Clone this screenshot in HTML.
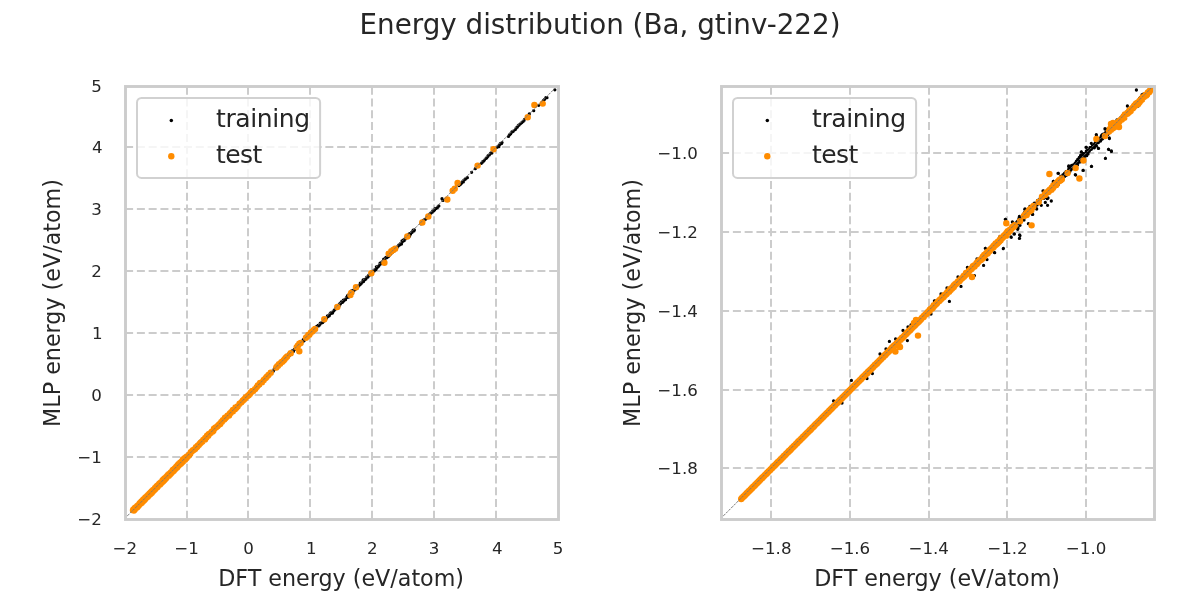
<!DOCTYPE html>
<html lang="en"><head><meta charset="utf-8"><title>Energy distribution (Ba, gtinv-222)</title>
<style>html,body{margin:0;padding:0;background:#fff;overflow:hidden}svg{display:block}text{font-family:"DejaVu Sans", "Liberation Sans", sans-serif;fill:#262626}</style></head><body>
<svg width="1200" height="600" viewBox="0 0 1200 600">
<rect width="1200" height="600" fill="#fff"/>
<text x="600" y="34" font-size="27.78" text-anchor="middle">Energy distribution (Ba, gtinv-222)</text>
<clipPath id="c0"><rect x="124.75" y="85.5" width="433.0" height="433.0"/></clipPath>
<path d="M187 518.85V85.5M248 518.85V85.5M310 518.85V85.5M372 518.85V85.5M434 518.85V85.5M496 518.85V85.5M125.1 147H557.75M125.1 209H557.75M125.1 271H557.75M125.1 333H557.75M125.1 395H557.75M125.1 457H557.75" stroke="#cccccc" stroke-width="2" stroke-dasharray="8 3.78" fill="none"/>
<g clip-path="url(#c0)">
<path d="M132.5 510.96h0M133.19 510.69h0M133.53 509.55h0M133.87 509.61h0M134.47 509.7h0M134.82 508.92h0M135.17 507.51h0M135.54 508.53h0M135.98 506.69h0M136.62 506.02h0M137.16 506.61h0M137.98 505.6h0M138.45 505.32h0M138.94 504.88h0M139.73 504.18h0M140.41 503.85h0M140.93 502.48h0M141.27 502.27h0M141.69 501.66h0M142.18 500.89h0M142.83 500.32h0M143.61 500.13h0M144.33 499.3h0M144.94 499.38h0M145.77 497.77h0M146.66 496.49h0M147.03 495.77h0M147.42 496.64h0M148.01 496.38h0M148.77 495.03h0M149.41 494.52h0M150.13 493.13h0M150.79 492.28h0M151.59 491.72h0M152.46 490.34h0M152.79 490.94h0M153.52 489.04h0M154.31 487.91h0M154.78 488.2h0M155.09 489.04h0M155.67 488.06h0M156.01 487.83h0M156.77 487.12h0M157.3 486.6h0M158.12 486h0M158.75 485.14h0M159.58 484.48h0M160.05 482.55h0M160.6 482.28h0M161.47 483.01h0M161.87 481.91h0M162.31 481.65h0M162.9 480.34h0M163.2 480.17h0M163.75 479.37h0M164.62 479.5h0M165.34 477.5h0M166.04 477.48h0M166.37 478h0M167.2 475.84h0M167.98 475.19h0M168.34 475.61h0M169.02 474.77h0M169.45 474.23h0M169.84 473.66h0M170.14 473.61h0M170.53 473.49h0M170.85 473.06h0M171.67 471.69h0M172.13 471.27h0M172.63 470.78h0M173.44 470.37h0M174.34 468.64h0M174.69 469.04h0M175.05 468.31h0M175.85 468.11h0M176.25 468.69h0M176.86 466.93h0M177.25 466.23h0M177.87 465.7h0M178.75 465.4h0M179.21 463.75h0M179.73 464.34h0M180.35 464.07h0M181.12 462.29h0M181.91 462.04h0M182.8 461.4h0M183.59 459.22h0M184.33 459.37h0M184.84 459.41h0M185.16 458.88h0M185.62 458.06h0M186.33 457.84h0M187.2 456.24h0M188.09 456.02h0M188.52 454.93h0M188.96 454.77h0M189.63 454.32h0M190.47 453.47h0M191.16 451.91h0M191.94 452.35h0M192.79 451.22h0M193.56 450.04h0M193.96 449.01h0M194.74 448.37h0M195.62 448.84h0M196.16 446.36h0M196.89 447.48h0M197.3 446.52h0M198.14 445.69h0M198.92 445.3h0M199.81 444.61h0M200.51 442.69h0M200.88 443.28h0M201.19 443.19h0M201.81 441.65h0M202.67 439.91h0M203.46 440.59h0M203.89 439.7h0M204.34 439.72h0M204.99 438.58h0M205.37 438.81h0M206.21 437.02h0M206.86 437.22h0M207.7 434.82h0M208.31 435.88h0M208.92 434.57h0M209.49 434.1h0M209.9 434.69h0M210.3 433.32h0M210.89 432.61h0M211.38 431.53h0M211.99 430.7h0M212.36 430.92h0M212.99 430.61h0M213.76 430.29h0M214.36 428.38h0M215.21 428.04h0M215.77 427.33h0M216.38 426.8h0M217.1 425.85h0M217.68 426.12h0M218.55 424.7h0M219.41 423.12h0M219.87 422.5h0M220.67 422.45h0M221.06 422.97h0M221.4 422.61h0M221.84 422.49h0M222.61 421.35h0M223.45 420.64h0M224.15 420.17h0M224.53 420.13h0M224.97 417.67h0M225.84 417.25h0M226.73 417.25h0M227.53 416.38h0M228.14 415.96h0M228.64 415.12h0M229.38 414.68h0M229.69 413.35h0M230 413.4h0M230.5 412.63h0M230.84 412.3h0M231.73 412.22h0M232.09 410.08h0M232.55 411.98h0M233.01 410.82h0M233.39 409.14h0M234.18 409.99h0M234.64 409.69h0M235.28 409.32h0M236 407.76h0M236.71 406.99h0M237.27 407.5h0M237.95 406.22h0M238.73 405.81h0M239.07 405.08h0M239.89 403.23h0M240.52 403.22h0M241.37 402.19h0M241.99 401.9h0M242.43 401.42h0M242.76 401.04h0M243.18 400.24h0M243.94 400.09h0M244.41 398.84h0M244.92 398.68h0M245.23 398.37h0M245.97 397.72h0M246.6 397.23h0M247.46 396.71h0M247.83 396.02h0M248.43 394.64h0M249.23 393.86h0M249.94 394.07h0M250.83 392.2h0M251.55 392.92h0M252.23 390.95h0M252.57 391.32h0M252.94 391.47h0M253.4 390.59h0M253.8 390.71h0M254.62 389.52h0M255.32 388.2h0M255.8 388.2h0M256.37 387.56h0M256.83 387.27h0M257.71 386.57h0M258.15 385.33h0M259.03 384.38h0M259.33 384.75h0M259.86 383.1h0M260.28 383.42h0M260.89 383.14h0M261.24 382.37h0M261.78 381.93h0M262.26 381.37h0M262.7 380.32h0M263.45 379.8h0M264.15 379.21h0M264.68 377.81h0M265.18 378.74h0M265.91 377.66h0M266.6 378.01h0M267.43 376.45h0M268.11 375.39h0M268.49 374.11h0M269.11 373.45h0M269.89 373.68h0M270.68 371.91h0M271.39 371.62h0M272.11 371.51h0M272.49 371.25h0M273.01 371.42h0M273.64 370.6h0M274.32 368.7h0M274.91 368.1h0M275.21 368.66h0M275.82 366.91h0M276.44 367.05h0M277.18 366.25h0M277.63 366.36h0M278.37 365.43h0M278.79 364.71h0M279.39 362.72h0M279.92 362.86h0M280.68 363.03h0M281.35 362.11h0M281.74 361.69h0M282.19 361.39h0M282.83 360.3h0M283.14 360.87h0M283.84 359.92h0M284.55 358.84h0M285.16 358.03h0M285.74 357.59h0M286.58 357.08h0M287 357.88h0M287.31 356.11h0M287.89 356.33h0M288.45 353.84h0M288.92 355.02h0M289.34 355.54h0M289.99 354.03h0M290.86 353.27h0M291.24 352.66h0M292.07 350.97h0M292.8 350.99h0M293.39 351.44h0M293.7 350.6h0M294.27 349.42h0M294.76 349.25h0M295.24 348.84h0M296.05 348.57h0M296.85 346.88h0M297.22 347.28h0M298.07 345.29h0M298.54 344.83h0M299.44 344.72h0M300.09 343.31h0M300.56 343.67h0M300.89 343.74h0M301.36 343.06h0M302.22 341.6h0M302.83 341.43h0M303.24 339.63h0M304.07 340.76h0M304.86 338.18h0M305.72 337.26h0M306.35 337.5h0M307.09 336.64h0M307.66 336.26h0M308.13 334.99h0M308.46 335.72h0M309.05 334.76h0M309.55 334.12h0M310.44 334.38h0M310.89 332.81h0M311.53 332.06h0M312.06 332.08h0M312.49 331.79h0M313.33 330.29h0M314.18 329.85h0M315.07 328.68h0M315.49 328.65h0M315.84 328.08h0M316.29 327.97h0M316.74 326.28h0M317.49 326.1h0M318.04 325.48h0M318.57 325.88h0M319.07 325.45h0M319.95 324.34h0M320.33 323.03h0M321.14 322.99h0M321.57 322.53h0M322.11 322.46h0M322.68 322.52h0M323.5 320.38h0M323.82 321.22h0M324.65 319.73h0M325.24 318.97h0M325.77 318.45h0M326.63 318.11h0M327.51 315.78h0M327.96 316.55h0M328.57 315.9h0M329.28 315.82h0M329.97 314.01h0M330.73 312.9h0M331.06 313.43h0M331.82 312.61h0M332.51 313.02h0M332.99 311.6h0M333.68 310.93h0M334.4 310.06h0M335.01 309.43h0M335.66 308.34h0M336.32 308.23h0M336.63 307.48h0M337.5 307.38h0M338.19 306.58h0M338.63 305.25h0M339.08 306.06h0M339.56 304.53h0M339.88 303.6h0M340.43 303.88h0M340.88 302.8h0M341.32 301.9h0M341.64 302.36h0M342.35 302.44h0M342.77 301.8h0M343.37 300.07h0M343.79 300.97h0M344.58 299.63h0M345.02 299.44h0M345.5 299.71h0M346.37 297.57h0M346.81 297.5h0M347.36 296.26h0M347.74 295.4h0M348.28 296.36h0M348.66 297.08h0M349 295.82h0M349.83 294.67h0M350.66 293.43h0M351.52 290.88h0M352.02 292.79h0M352.77 292.72h0M353.09 290.94h0M353.61 290.23h0M354.11 290.21h0M354.58 289.76h0M355.09 289.48h0M355.97 288.25h0M356.39 287.27h0M357.19 287.91h0M357.75 287.15h0M358.27 286.22h0M359.12 285.36h0M359.96 284.83h0M360.28 283.17h0M361.04 283.8h0M361.36 283.13h0M362.21 282.13h0M362.67 281.61h0M363.17 279.95h0M363.63 281.4h0M364.09 280.01h0M364.82 279.3h0M365.12 279.58h0M365.88 279.1h0M366.74 277.17h0M367.06 277.3h0M367.93 276.99h0M368.8 275.18h0M369.36 275.21h0M369.96 274.66h0M370.74 273.41h0M371.48 273.23h0M372.15 271.3h0M372.64 271.43h0M373.41 271.36h0M373.76 270.84h0M374.21 270.96h0M374.55 270.43h0M375.04 269.4h0M375.93 269.58h0M376.39 266.82h0M376.74 268.09h0M377.47 267.2h0M378.04 266.32h0M378.71 266.16h0M379.41 264.87h0M380.11 263.12h0M380.48 264.06h0M381.12 262.79h0M381.65 262.63h0M382.1 261.84h0M382.54 262.41h0M383.19 262.05h0M383.69 259.25h0M384.29 261.05h0M384.73 259.86h0M385.62 257.93h0M385.99 257.31h0M386.79 257.67h0M387.64 257.11h0M388.01 256.41h0M388.42 256.59h0M389.28 254.9h0M389.8 254.9h0M390.26 253.59h0M391.03 253.52h0M391.69 252.53h0M392.36 252.05h0M392.74 252.07h0M393.16 251.11h0M393.86 251.19h0M394.28 250.51h0M394.98 249.35h0M395.4 248.76h0M396.17 248.47h0M396.8 247.73h0M397.34 247.06h0M397.97 246.18h0M398.37 245.75h0M399.08 244.84h0M399.57 244.97h0M400.44 243.59h0M400.95 244h0M401.5 244.02h0M402.02 240.88h0M402.44 241.81h0M402.74 241.19h0M403.59 239.81h0M404.13 240.64h0M404.96 239.02h0M405.27 239.11h0M405.9 237.64h0M406.25 237.11h0M406.93 236.93h0M407.31 237.46h0M407.78 235.27h0M408.15 235.99h0M408.74 236.04h0M409.16 233.79h0M409.54 236.17h0M410.13 233.65h0M410.46 234.33h0M411.3 232.75h0M411.97 232.47h0M412.75 231.26h0M413.18 230.24h0M413.98 230.93h0M414.39 230.02h0M420.99 223.75h0M421.64 222.72h0M423.07 221.92h0M423.27 220.46h0M424.11 219.98h0M425.57 219.18h0M426.19 218.52h0M427.1 217.11h0M427.91 216.83h0M428.63 215.48h0M429.49 214.5h0M430.02 213.99h0M431.02 213.01h0M432.27 212.16h0M432.67 211.24h0M433.74 210.77h0M434.55 209.93h0M435.14 208.76h0M435.95 208.57h0M437.25 207.67h0M438.2 206.47h0M438.84 205.95h0M458.99 185.52h0M460.27 184.6h0M461.15 183.8h0M461.79 182.66h0M462.83 181.28h0M463.3 181.91h0M463.9 180.21h0M465.22 179.27h0M465.73 178.56h0M466.88 177.93h0M467.36 177.7h0M481.38 163.27h0M482.39 162.33h0M482.72 161.59h0M483.73 161.09h0M484.42 160.03h0M486.09 158.47h0M486.8 157.74h0M487.81 156.39h0M488.18 155.61h0M489.31 154.93h0M490.66 153.2h0M491.59 152.58h0M491.86 153.05h0M497 147.32h0M498.17 146.06h0M498.86 146.71h0M499.55 144.84h0M500.26 143.65h0M501.56 143.5h0M502.04 142.53h0M508.49 136.39h0M509.37 134.93h0M509.96 134.5h0M510.69 133.66h0M511.9 132.01h0M512.98 131.57h0M513.24 131.19h0M515.32 129.61h0M516.21 128.02h0M517.41 127.09h0M518.21 125.68h0M519.1 124.98h0M520.36 123.78h0M521.52 122.86h0M521.86 122.59h0M523.09 121.4h0M524.19 120.24h0M524.61 119.35h0M543.31 100.72h0M544.62 99.33h0M545.88 97.59h0M546.96 97.72h0M443 200.4h0M442 198.7h0M471.6 172.3h0M475.3 168.7h0M529.3 114h0M533.7 110.7h0M538.7 105.3h0M554.85 89.85h0M190.6 455.4h0M200.2 441.2h0M238.7 406.7h0M260 385.6h0M256 388.9h0" stroke="#000" stroke-width="3.3" stroke-linecap="round" fill="none"/>
<path d="M133 510.35h0M133.24 509.78h0M133.42 510.18h0M133.55 509.49h0M133.77 509.2h0M133.95 510.51h0M134.07 509.2h0M134.26 509.5h0M134.46 509.79h0M134.59 508.86h0M134.73 508.3h0M134.96 509.24h0M135.17 507.79h0M135.4 508.74h0M135.57 508.57h0M135.74 507.58h0M135.85 507.47h0M135.96 507.53h0M136.17 507.89h0M136.4 507.69h0M136.54 507.3h0M136.7 507.51h0M136.88 506.49h0M137.08 507.42h0M137.21 507.15h0M137.31 506.06h0M137.45 506.69h0M137.69 506.46h0M137.84 506.52h0M137.99 505.35h0M138.22 505.74h0M138.43 505.59h0M138.67 505.03h0M138.9 505.17h0M139.13 504.52h0M139.34 504.53h0M139.48 503.81h0M139.68 503.4h0M139.91 503.27h0M140.02 503.1h0M140.26 503.25h0M140.38 502.62h0M140.48 503.57h0M140.68 503.39h0M140.89 502.17h0M141.08 502.45h0M141.3 502.96h0M141.53 501.52h0M141.76 502.65h0M142.01 501.12h0M142.14 500.99h0M142.24 502.06h0M142.46 501.5h0M142.69 501.27h0M142.83 500.28h0M142.95 501.22h0M143.08 500.38h0M143.24 499.74h0M143.38 500.02h0M143.59 499.95h0M143.73 500.76h0M143.91 500.4h0M144.1 498.9h0M144.26 499.38h0M144.48 499.02h0M144.69 499.12h0M144.82 499.51h0M144.93 499.33h0M145.06 497.89h0M145.19 498.98h0M145.43 497.52h0M145.61 498.13h0M145.83 497.42h0M146 497.5h0M146.23 497.14h0M146.47 496.94h0M146.6 497.47h0M146.78 496.35h0M146.97 496.11h0M147.19 496.88h0M147.41 496.55h0M147.56 496.03h0M147.72 496.66h0M147.83 496.54h0M147.94 495.34h0M148.08 496.32h0M148.25 495.31h0M148.48 494.84h0M148.65 495.15h0M148.87 495.29h0M149.06 494.45h0M149.21 493.99h0M149.44 494.57h0M149.65 493.57h0M149.82 494.37h0M150 493.15h0M150.17 494.19h0M150.31 492.95h0M150.45 493.62h0M150.68 492.52h0M150.8 492.54h0M150.95 492.83h0M151.08 492.4h0M151.2 493.31h0M151.41 491.7h0M151.66 491.46h0M151.82 492.71h0M152.03 492.09h0M152.2 491.06h0M152.4 490.73h0M152.53 491.05h0M152.63 490.96h0M152.85 491.21h0M153.02 490.94h0M153.19 489.98h0M153.38 490.21h0M153.6 490.81h0M153.76 490.11h0M153.97 489.65h0M154.11 490h0M154.34 489.85h0M154.54 489.77h0M154.75 489.23h0M154.91 488.54h0M155.11 488h0M155.27 488.93h0M155.48 488.48h0M155.62 488.01h0M155.78 488.16h0M155.95 488.08h0M156.19 487.06h0M156.38 487.81h0M156.54 487.19h0M156.79 486.22h0M156.97 486.24h0M157.19 487.27h0M157.36 485.75h0M157.55 486.26h0M157.76 486.01h0M157.95 486.32h0M158.13 485.47h0M158.37 484.91h0M158.58 485h0M158.79 484.35h0M159.04 484.48h0M159.15 484.24h0M159.31 483.66h0M159.47 484.15h0M159.68 483.84h0M159.82 483.49h0M160.03 484.43h0M160.21 483.09h0M160.43 483.15h0M160.56 482.6h0M160.77 483.47h0M160.97 482.73h0M161.15 482.16h0M161.4 482.12h0M161.59 482.67h0M161.82 481.88h0M161.96 481.87h0M162.08 482.2h0M162.23 482.08h0M162.37 481.18h0M162.51 481.12h0M162.64 480.32h0M162.85 480.55h0M162.98 480.45h0M163.16 480.48h0M163.35 480.65h0M163.51 480.93h0M163.73 479.31h0M163.96 480.44h0M164.18 479h0M164.4 479.56h0M164.5 478.47h0M164.74 479.25h0M164.88 478.23h0M165 478.32h0M165.22 478.28h0M165.34 479.05h0M165.56 477.66h0M165.8 478.13h0M166.01 478.01h0M166.25 477.96h0M166.47 476.79h0M166.68 477.12h0M166.89 476.76h0M167.12 476.72h0M167.26 476.06h0M167.38 476.36h0M167.49 476.21h0M167.61 476.12h0M167.79 476.03h0M168.02 474.95h0M168.24 475.46h0M168.43 475.59h0M168.65 474.9h0M168.81 475.67h0M168.93 475.04h0M169.12 473.87h0M169.31 474.73h0M169.55 473.93h0M169.8 473.97h0M169.97 474.41h0M170.08 474.02h0M170.27 473.22h0M170.5 473.03h0M170.67 473.12h0M170.89 472.4h0M171.05 472.57h0M171.24 473.04h0M171.38 472.89h0M171.54 472.22h0M171.68 472.08h0M171.93 472.07h0M172.15 471.33h0M172.29 471.13h0M172.48 471.48h0M172.7 470.31h0M172.91 471.46h0M173.09 469.94h0M173.23 469.73h0M173.36 471.06h0M173.55 470.45h0M173.77 470.63h0M173.96 469.97h0M174.16 469.91h0M174.35 469.69h0M174.48 469.54h0M174.65 469.52h0M174.76 468.48h0M174.87 469.32h0M175.11 468.89h0M175.26 469h0M175.48 468.37h0M175.62 467.81h0M175.78 467.68h0M175.95 468.03h0M176.19 466.85h0M176.37 466.64h0M176.49 467.76h0M176.68 467.74h0M176.84 466.13h0M177 466.9h0M177.24 467.28h0M177.41 466.2h0M177.53 466.45h0M177.66 465.53h0M177.76 465.2h0M177.96 465.18h0M178.21 464.88h0M178.44 464.72h0M178.54 465.56h0M178.68 465.44h0M178.81 464.22h0M179.02 465.07h0M179.25 464.87h0M179.36 464.59h0M179.57 464.12h0M179.81 463.55h0M180.06 464.04h0M180.16 462.82h0M180.35 463.9h0M180.47 462.98h0M180.68 462.54h0M180.91 462.82h0M181.01 462.52h0M181.2 462.45h0M181.4 461.78h0M181.62 461.91h0M181.82 462.14h0M181.98 461.59h0M182.2 462.26h0M182.42 461.44h0M182.56 460.49h0M182.81 461.27h0M183.03 460.45h0M183.22 461.29h0M183.45 460.47h0M183.59 460.04h0M183.83 459.73h0M184.03 459.88h0M184.26 459.98h0M184.41 458.55h0M184.54 459.08h0M184.73 459.52h0M184.97 458.05h0M185.19 459.06h0M185.42 458.44h0M185.56 458.75h0M185.78 458.26h0M186.02 457.48h0M186.13 457.7h0M186.35 456.92h0M186.57 457.88h0M186.7 457.22h0M186.9 456.79h0M187.03 456.55h0M188.17 455.97h0M189.03 455.06h0M190.15 453.75h0M190.84 452.16h0M192.05 451.23h0M192.96 450.21h0M193.61 450.05h0M194.27 449.54h0M195.06 448.99h0M196.01 447.27h0M196.63 447.19h0M197.17 446.74h0M197.75 445.84h0M198.76 444.89h0M199.73 443.68h0M200.51 443.03h0M201.04 442.56h0M202.33 441.52h0M203.28 440.04h0M203.99 439.67h0M205.25 438.02h0M206.36 437.58h0M207.07 435.79h0M207.6 436.06h0M208.16 435.63h0M208.7 434.29h0M209.57 433.8h0M210.83 432.87h0M211.81 431.73h0M212.63 431.57h0M213.33 430.82h0M214.28 428.81h0M215.32 427.66h0M216.13 427.29h0M217.41 426.25h0M218.7 424.92h0M219.4 424.28h0M220.19 423.98h0M221.35 421.85h0M221.89 421.82h0M222.91 420.2h0M224.2 419.57h0M225.3 418.36h0M226.55 416.93h0M227.53 415.83h0M228.63 415.19h0M229.34 414.44h0M229.94 413.47h0M230.63 412.99h0M231.24 412.33h0M232.32 411.24h0M232.97 411.34h0M233.65 410.11h0M234.9 409.15h0M235.51 407.59h0M236.37 407.84h0M237.54 406.48h0M183 459.35h0M185 459.75h0M181 463.55h0M178.5 464.15h0M225 417.65h0M229 415.45h0M233 409.85h0M205 439.45h0M214 428.75h0M239.6 403.74h0M241.32 402.36h0M242.7 400.78h0M243.82 399.66h0M244.78 398.73h0M245.82 397.41h0M247.59 395.97h0M248.65 395.26h0M249.82 393.92h0M250.89 392.48h0M252.28 391.05h0M253.29 390.9h0M255.17 389.02h0M256.74 387.08h0M257.85 385.5h0M259.01 384.62h0M260.11 382.88h0M262.01 382.28h0M263.83 379.97h0M265.63 378.11h0M266.59 376.97h0M268.47 374.89h0M276.3 367.46h0M277.21 366.14h0M278.01 365.85h0M278.96 364.32h0M280.11 363.75h0M281.37 362.15h0M282.28 361.63h0M283.65 360.55h0M284.6 359.18h0M285.89 357.83h0M287.09 356.53h0M296.7 347.15h0M298 345.51h0M299.3 343.82h0M300.6 342.88h0M306 337.72h0M306.95 336.86h0M308.35 335.09h0M309.29 334.69h0M310.78 332.74h0M312.28 331.5h0M313.82 330.03h0M315.06 329.01h0M270.7 372.7h0M290.7 353.3h0M299.3 351.3h0M324.3 319.3h0M337.3 306.9h0M350.4 295h0M351.2 293h0M356 287.3h0M371.33 273.33h0M384.4 262.7h0M388.7 253.7h0M391.3 251.3h0M393.2 250h0M395.1 248.7h0M407.3 236.4h0M422.3 222.4h0M428.3 216.4h0M447.3 199.5h0M452.7 190.7h0M454.7 188.7h0M457.6 182.9h0M477.6 165.6h0M493.5 149.3h0M527.7 117.3h0M534.4 104.9h0M542.7 103.6h0" stroke="#ff8c00" stroke-width="6.45" stroke-linecap="round" fill="none"/>
<path d="M124.75 518.5L557.75 85.5" stroke="#777" stroke-width="1" stroke-dasharray="2.6 1.1" fill="none"/>
</g>
<rect x="125.5" y="86.5" width="433.0" height="433.0" fill="none" stroke="#cccccc" stroke-width="2.9"/>
<rect x="137" y="98" width="183.1" height="79.9" rx="4.5" ry="4.5" fill="#fff" fill-opacity="0.8" stroke="#ccc" stroke-opacity="0.9" stroke-width="2"/>
<circle cx="171.3" cy="120.5" r="1.75" fill="#000"/>
<circle cx="171.3" cy="156.3" r="3.2" fill="#ff8c00"/>
<text x="216.1" y="126.9" font-size="25" letter-spacing="-0.4">training</text>
<text x="216.1" y="163.1" font-size="25" letter-spacing="-0.58">test</text>
<text x="124.75" y="554" font-size="16.67" text-anchor="middle">−2</text>
<text x="186.61" y="554" font-size="16.67" text-anchor="middle">−1</text>
<text x="248.46" y="554" font-size="16.67" text-anchor="middle">0</text>
<text x="311.22" y="554" font-size="16.67" text-anchor="middle">1</text>
<text x="372.18" y="554" font-size="16.67" text-anchor="middle">2</text>
<text x="434.04" y="554" font-size="16.67" text-anchor="middle">3</text>
<text x="497.29" y="554" font-size="16.67" text-anchor="middle">4</text>
<text x="558.15" y="554" font-size="16.67" text-anchor="middle">5</text>
<text x="101.8" y="92.1" font-size="16.67" text-anchor="end">5</text>
<text x="102.6" y="153.06" font-size="16.67" text-anchor="end">4</text>
<text x="101.8" y="214.91" font-size="16.67" text-anchor="end">3</text>
<text x="101.8" y="276.87" font-size="16.67" text-anchor="end">2</text>
<text x="102.7" y="338.73" font-size="16.67" text-anchor="end">1</text>
<text x="101.8" y="401.39" font-size="16.67" text-anchor="end">0</text>
<text x="101.8" y="463.24" font-size="16.67" text-anchor="end">−1</text>
<text x="101.8" y="525.1" font-size="16.67" text-anchor="end">−2</text>
<text x="341.1" y="585.6" font-size="22.22" text-anchor="middle">DFT energy (eV/atom)</text>
<text transform="translate(59.8 303) rotate(-90)" font-size="22.22" text-anchor="middle">MLP energy (eV/atom)</text>
<clipPath id="c1"><rect x="720.75" y="85.5" width="433.0" height="433.0"/></clipPath>
<path d="M771 518.85V85.5M850 518.85V85.5M929 518.85V85.5M1007 518.85V85.5M1086 518.85V85.5M721.1 153H1153.75M721.1 232H1153.75M721.1 311H1153.75M721.1 390H1153.75M721.1 468H1153.75" stroke="#cccccc" stroke-width="2" stroke-dasharray="8 3.78" fill="none"/>
<g clip-path="url(#c1)">
<path d="M851.4 380.4h0M833.6 401h0M842 403h0M872.4 373.6h0M867 378.5h0M880 354h0M886 349h0M889.4 341.4h0M895.6 339h0M903 330.4h0M907.4 340.6h0M908 327h0M911 325h0M931 314h0M935 301h0M949.4 301.4h0M934.4 301h0M941 294h0M947 288h0M961 286.4h0M958 277h0M974.4 275.6h0M967.4 267.4h0M983.6 265.4h0M987 259.6h0M977 259h0M985.4 248.4h0M994.4 252.6h0M1003.4 248.4h0M1000 236.4h0M1005.6 219.4h0M1011 237h0M1014 234h0M1019.4 238.4h0M1020 235.6h0M1012.4 222h0M1018 228h0M1019.4 216.4h0M1024 220h0M1025 209h0M1032.4 214.4h0M1036 208h0M1058.4 173.4h0M1053.4 181.4h0M1043 191h0M1047 198h0M1068.6 166.4h0M1075.6 175h0M1083 170.4h0M1091.4 166.4h0M1105.4 158.4h0M1108.6 149.4h0M1111.4 151h0M1098.4 148.4h0M1109.4 138.6h0M1096.4 135h0M1105 128.6h0M1081.4 152h0M1086.4 147.4h0M1078 160h0M1127.4 106h0M1136.4 90h0M1117 120h0M1138 106h0M800 439.05h0M801.07 438.04h0M801.76 437.64h0M802.64 437.04h0M803.39 435.87h0M804.21 435.45h0M805.26 434.38h0M806.35 432.65h0M807.06 432.71h0M808.06 431.88h0M809.22 430.31h0M810.02 428.78h0M810.85 428.36h0M811.26 428.24h0M811.81 427.39h0M812.29 426.96h0M812.72 427.22h0M813.19 425.98h0M813.61 425.41h0M814.49 424.36h0M815.45 423.59h0M815.93 423.73h0M816.37 422.44h0M816.87 421.94h0M817.49 421.78h0M817.99 421.09h0M818.86 420.5h0M819.95 419.6h0M820.95 418.7h0M821.48 418.19h0M822.19 416.25h0M822.93 416.58h0M823.64 415.2h0M824.8 414.51h0M825.39 413.51h0M826.06 412.17h0M827.1 412.59h0M828.23 411.33h0M828.67 409.87h0M829.49 410.67h0M830.09 408.92h0M830.82 408.17h0M831.65 407.32h0M832.1 406.71h0M832.52 406.93h0M833.03 406.91h0M834.18 404.93h0M835.09 404.47h0M836.2 402.26h0M836.62 402.42h0M837.57 401.43h0M838.18 400.15h0M839.08 399.92h0M839.68 399.13h0M840.84 398.35h0M841.47 397.57h0M841.97 397.85h0M842.84 396.89h0M843.46 395.65h0M844.23 394.78h0M844.73 394.47h0M845.24 393.9h0M845.87 393.8h0M846.46 393.25h0M847.53 392h0M848.42 390.26h0M848.98 390h0M849.95 388.77h0M850.84 388.54h0M851.62 387.51h0M852.19 387.36h0M853 385.81h0M853.41 386.23h0M854.1 385.37h0M854.94 384.06h0M855.73 383.23h0M856.37 384.17h0M857.39 381.95h0M858.49 380.91h0M859.24 380.43h0M859.99 379.43h0M860.98 378.52h0M862.14 377.31h0M863.14 376.35h0M863.82 375.78h0M864.76 373.82h0M865.81 372.83h0M866.63 372.57h0M867.64 370.85h0M868.42 370.99h0M869.55 368.98h0M870.05 369.23h0M871.06 368.16h0M871.93 366.1h0M872.79 366.48h0M873.52 365.93h0M874.41 363.89h0M875.11 363.63h0M876.09 363.32h0M876.73 362.05h0M877.43 362.21h0M878.09 361.38h0M878.89 359.44h0M879.65 359.77h0M880.16 359.47h0M881.02 358.04h0M882.16 356.99h0M882.82 356.95h0M883.98 354.48h0M884.55 353.73h0M884.96 354.78h0M885.39 353.32h0M886.53 352.49h0M887.55 349.96h0M888.36 350.46h0M889.18 349.87h0M889.86 348.93h0M890.74 347.78h0M891.68 348.56h0M892.5 347.15h0M893.22 346.32h0M894.07 344.24h0M895.24 343.53h0M896.03 342.55h0M897.23 342.29h0M897.9 340.41h0M898.44 340.63h0M899.09 341.12h0M899.9 339.21h0M900.39 339.49h0M901.45 337.31h0M902.64 337.03h0M903.17 335.73h0M903.8 334.83h0M904.35 334.86h0M904.89 333.86h0M905.58 333.15h0M906.77 332.38h0M907.5 331.63h0M908.53 330.43h0M908.93 331.09h0M909.58 330.06h0M910.51 328.14h0M911.07 327.49h0M911.68 327.58h0M912.6 324.83h0M913.46 325.42h0M914.19 325.29h0M915.2 324.27h0M915.68 323.84h0M916.5 322.95h0M917.56 320.93h0M918.01 320.59h0M918.42 320.9h0M919.39 319.37h0M920.07 319.39h0M920.55 319.08h0M921.68 317.12h0M922.44 316.56h0M923.14 317.22h0M924.01 315.64h0M925.18 313.34h0M925.78 313.76h0M926.21 314.05h0M926.86 311.92h0M927.98 311.46h0M928.87 309.94h0M930.03 307.82h0M930.63 308.66h0M931.34 307.83h0M931.99 306.86h0M933.09 305.14h0M933.68 305.67h0M934.22 304.79h0M935.4 304.14h0M936.03 302.95h0M936.86 302.28h0M937.57 301.51h0M938.06 301.31h0M939.13 299.86h0M939.68 299.93h0M940.31 298.96h0M941.24 298.17h0M941.91 297.86h0M942.38 297.64h0M943 296.41h0M943.75 295.23h0M944.82 294.55h0M945.51 293.41h0M946.48 291.68h0M947.05 293.26h0M948.21 290.61h0M948.97 290.26h0M949.48 289.64h0M950.6 288.2h0M951.47 287.47h0M952.35 287.23h0M952.92 286.54h0M953.73 285.29h0M954.57 284.55h0M955.28 285.02h0M956.2 282.56h0M956.91 282.12h0M957.38 282.4h0M958.04 282.3h0M958.97 280.9h0M959.66 280.1h0M960.46 278.72h0M961.11 278.36h0M961.69 278.26h0M962.32 277.64h0M963.04 277.13h0M964.14 274.51h0M965.23 274.36h0M965.66 273.97h0M966.6 272.34h0M967.33 271.41h0M968.26 270.84h0M969.34 269.45h0M970.02 268.95h0M970.51 268.45h0M971.64 267.51h0M972.07 266.16h0M972.5 266.97h0M973.15 266.47h0M973.85 265.94h0M974.76 264.62h0M975.31 264.39h0M976.28 262.25h0M976.88 261.46h0M977.56 262.08h0M977.96 261.86h0M978.59 259.68h0M979.03 260.77h0M979.46 259.07h0M980.06 260.08h0M980.63 259.37h0M981.76 257.49h0M982.72 256.25h0M983.43 255.8h0M984.05 253.95h0M984.53 255.38h0M985.67 253.35h0M986.62 252.54h0M987.53 250.46h0M988.29 251.94h0M989.03 250.57h0M989.84 249.73h0M990.85 248.24h0M991.29 247.61h0M991.89 246.18h0M992.73 247.47h0M993.57 245.5h0M994.17 245.68h0M994.9 244.59h0M995.46 243.66h0M996.42 243.17h0M997.36 241.93h0M998.17 241.59h0M998.93 240.91h0M999.57 239.43h0M1000.67 239.14h0M1001.34 238.6h0M1002.39 235.73h0M1002.93 235.97h0M1003.86 234.75h0M1004.88 233.92h0M1005.94 233.75h0M1006.63 233h0M1007.19 232.59h0M1007.75 231.71h0M1008.71 230.21h0M1009.37 229.99h0M1010.15 228.82h0M1010.6 228.97h0M1011.01 229.42h0M1011.48 227.71h0M1012.45 227.71h0M1012.94 226.19h0M1013.73 225.09h0M1014.57 224.87h0M1014.97 225.18h0M1015.88 222.87h0M1017.02 221.91h0M1017.62 221.18h0M1018.13 222.35h0M1019.2 220.26h0M1019.84 219.82h0M1020.92 219.29h0M1022.06 217.82h0M1023.12 217.25h0M1024.12 214.92h0M1025.18 214.49h0M1025.83 212.78h0M1026.53 213.41h0M1027.59 211.67h0M1028.45 211.02h0M1029.35 210.39h0M1030.47 207.72h0M1031.63 206.74h0M1032.16 207.13h0M1032.8 206.19h0M1033.75 205.35h0M1034.28 203.11h0M1034.75 205.2h0M1035.18 203.61h0M1036.16 203.27h0M1036.56 203.49h0M1037.59 200.41h0M1038.33 200.69h0M1039.14 201.2h0M1039.88 198.94h0M1040.81 199.13h0M1041.87 197.75h0M1042.51 196.48h0M1043.26 195.33h0M1043.82 195.15h0M1044.29 194.58h0M1045.47 194.55h0M1046.59 194.05h0M1047.76 189.92h0M1048.66 190.69h0M1049.6 189.4h0M1050.49 188.47h0M1051.65 188.57h0M1052.43 186.42h0M1053.11 185.61h0M1054.22 185.53h0M1055.16 184.18h0M1055.92 184.33h0M1056.61 183.23h0M1057.48 180.93h0M1058.33 181.41h0M1059.05 180.58h0M1060.16 179.42h0M1061 179.46h0M1061.6 178.68h0M1062.08 176.58h0M1062.87 176.26h0M1063.71 175.69h0M1064.2 176.08h0M1065.01 173.96h0M1065.74 173.34h0M1066.2 171.56h0M1067.04 172.81h0M1068.01 171.26h0M1069.2 169.65h0M1070.18 170.3h0M1070.89 169.27h0M1071.43 168.84h0M1072.45 166.54h0M1072.96 166.34h0M1073.55 165.42h0M1074.25 166.1h0M1074.82 164.54h0M1075.46 163.56h0M1076.57 161.84h0M1077.47 162.52h0M1078.6 159.88h0M1079.7 160.23h0M1080.37 160.08h0M1081.38 157.21h0M1081.88 155.96h0M1082.58 156.51h0M1083.55 153.67h0M1083.99 154.96h0M1084.83 154.19h0M1085.87 154.83h0M1086.81 153.69h0M1087.41 152.16h0M1088.48 151.63h0M1089.35 150.03h0M1089.84 149.53h0M1090.88 148.8h0M1091.51 148.73h0M1092.46 146.44h0M1093.56 146.01h0M1094.39 144.28h0M1095.55 142.25h0M1095.96 143.02h0M1096.76 142.9h0M1097.86 141.46h0M1098.41 140.62h0M1099.46 139.42h0M1100.24 138.23h0M1100.77 138.97h0M1101.87 136.67h0M1102.76 137.18h0M1103.33 136.28h0M1104.44 134.58h0M1104.98 134.13h0M1105.67 132.46h0M1106.38 133.1h0M1107.06 133.34h0M1107.73 131.56h0M1108.15 128.61h0M1108.58 131.32h0M1109.1 129.82h0M1109.72 128.91h0M1110.52 128.65h0M1111.34 129.05h0M1112.51 126.98h0M1113.35 125.88h0M1114.37 125.95h0M1115.28 122.87h0M1116.19 122.59h0M1117.22 122.58h0M1118.32 122.19h0M1118.96 119.78h0M1119.97 119.21h0M1120.88 117.3h0M1121.56 116.81h0M1122.01 116.95h0M1122.68 115.37h0M1123.47 118.21h0M1124.16 115.12h0M1124.84 115.07h0M1125.35 115.74h0M1126.11 113.22h0M1126.87 111.68h0M1127.4 111.53h0M1127.85 111.15h0M1128.84 111.16h0M1129.68 110.34h0M1130.81 108.12h0M1131.68 108.08h0M1132.54 106.98h0M1133.73 104.52h0M1134.48 106.02h0M1135.57 104.65h0M1136.69 103h0M1137.31 101.93h0M1137.84 101.61h0M1138.46 100.61h0M1139.18 99.45h0M1139.74 98.03h0M1140.66 97.47h0M1141.21 97.79h0M1142.09 94.76h0M1142.56 97.39h0M1143.23 94.24h0M1143.74 95.95h0M1144.84 95.49h0M1145.75 94.07h0M1146.41 92.53h0M1147.41 91.26h0M1148.36 90.12h0M1149.03 91.14h0M1149.46 90.13h0M1027.48 210.01h0M1017.64 221.67h0M1043.85 198.35h0M1056.65 182.86h0M1110.42 130.52h0M1076.97 162.9h0M1026.8 213.08h0M1003.12 236.55h0M1082.43 158.83h0M1038.75 201.78h0M1053.41 184.43h0M1068.48 169.89h0M1061.4 176.81h0M1017.74 223.37h0M1075.35 164.09h0M1024.28 212.73h0M1083.12 157.54h0M1020.34 218.71h0M1051.46 188.43h0M986.15 252.85h0M1045.42 192.57h0M1031.04 206.35h0M1110.67 128.88h0M996.42 245h0M988.55 251h0M1048.74 190.86h0M1055.52 185.01h0M1031.43 210.62h0M1003.96 236.22h0M1102.02 139.13h0M1005.58 235.88h0M1015.81 223.85h0M1109.76 127.65h0M1028.72 210.55h0M1086.67 151.47h0M1099.74 139.79h0M998.69 240.51h0M1066.97 171.8h0M1036.04 203.51h0M1056.65 182.25h0M1037.06 204.92h0M1064.64 173.08h0M1013.46 225.78h0M1040.09 200.17h0M1014.39 225.5h0M1066.62 174.73h0M1022.9 217.25h0M1057.33 181.89h0M1004.9 236.06h0M1018.94 218.32h0M1080.45 159.27h0M1027.1 211.2h0M1046.67 193.18h0M1071.71 167.05h0M1060.89 176.72h0M1097.12 142.62h0M1011.65 228.52h0M1084.04 154.39h0M1094.65 145.68h0M1111.34 130.27h0M1022.8 217.08h0M1108.74 130.61h0M986.2 253.68h0M1078.47 160.38h0M997.39 242.82h0M996.46 244.51h0M1028.12 212.93h0M1097.01 141.23h0M1109.42 130.76h0M1085.6 153.85h0M1072.56 168.19h0M1014.42 225.2h0M1039.67 199.78h0M1110.83 128.58h0M1025.19 214.53h0M1046.89 191.9h0M1002.25 236.27h0M1072.04 167.56h0M1003.79 235.35h0M999.27 238.45h0M1029.9 206.43h0M1029.38 209.94h0M1012.32 229.57h0M1077.89 160.82h0M1019.67 220.03h0M993.75 246.41h0M990.49 247.44h0M1055.69 183.49h0M1031.05 210.18h0M1067.95 171.44h0M1087.37 150.5h0M1111.05 127.97h0M1105.2 134.12h0M1075.19 163.23h0M1080.63 160.04h0M1078.81 160.55h0M1080.14 161.97h0M1058.28 184.49h0M1090.82 149.52h0M1090.99 148.17h0M1078.36 161.24h0M1064.27 176.04h0M1103.53 136.56h0M1060.67 176.42h0M1095.49 143.32h0M1087.64 153.39h0M1075.04 164.56h0M1098.3 141.25h0M1104.09 133.93h0M1111.72 127.74h0M1070.66 167.59h0M1078.46 159.71h0M1096.46 141.99h0M1091.09 149.33h0M1094.57 144.27h0M1087.33 153.68h0M1070.06 168.81h0M1107.07 131.89h0M1083.56 155.74h0M1083.74 154.44h0M1069.95 171.26h0M1086.55 155.05h0M1086.29 151.18h0M1070.89 168.3h0M1067.31 172.8h0M1092.59 145.81h0M1102.68 138.69h0M1060.34 177.78h0M1078.59 162.01h0M1064.64 173.06h0M1066.31 173.24h0M1077.26 162.83h0M1101.37 136.92h0M1062.75 176.63h0M1079.36 161.96h0M1082.26 157.25h0M1083.83 156.3h0M1066.09 171.61h0M1094.73 143.89h0M1070.83 169.75h0M1078.02 160.92h0M1058.96 181.54h0M1068.85 170.35h0M1067.64 171.74h0M1096.78 142.61h0M1071.06 169.5h0M1103.04 137.88h0M1104.38 136.06h0M1068.89 168.85h0M1091.36 149.13h0M1078.07 162.68h0M1077.83 162.06h0M1096.48 142.74h0M1093 147.68h0M1101.78 137.08h0M1089.25 151.21h0M1107.94 132.71h0M1096.44 145.97h0M1078.11 160.92h0M1061.82 176.84h0M1098.83 139.7h0M1084.82 155.7h0M1106.67 132.89h0M1090.01 149.28h0M1082.98 154.43h0M1080.4 159.66h0M1083.57 156.93h0M1084.53 154.23h0M1085.64 154.69h0M1097.98 140.04h0M1079.69 161.54h0M1087.91 152.08h0M1099.54 140.08h0M1069.92 169.06h0M1062.17 177.6h0M1062.77 176.3h0M1098.68 140.52h0M1094.77 144.62h0M1096.4 142.77h0M1095.31 144.28h0M1080.57 155.47h0M1102.11 135.39h0M1105.08 135.1h0M1085.98 154.39h0M1058.33 182.14h0M1072.17 167.32h0M1074.9 164.57h0M1088.01 153.82h0M1085.59 153.63h0M1074.44 165.29h0M1104.81 135.47h0M1071.88 165.52h0M1068.91 171.99h0M1078.19 161.82h0M1083.07 154.96h0M1077.75 161.91h0M1101.28 139.07h0M1088.03 153.97h0M1060.76 178.23h0M1080.08 160.77h0M1088.51 150.63h0M1100.99 139.38h0M1073.74 165.3h0M1089.97 147.57h0M1082.55 158.15h0M1105.42 133.64h0M1061.12 176.93h0M1060.64 179.57h0M1104.58 136.36h0M1067.73 172.5h0M1107.81 129.83h0M1084.9 153.87h0M1094.39 144.73h0M1069.4 169.3h0M1103.27 137.85h0M1069.17 172.42h0M1063.45 177.77h0M1109.35 131.34h0M1080.39 158.68h0M1106.92 131.89h0M1095.04 144.73h0M1095.57 144.31h0M1060.25 179.79h0M1070.56 168.16h0M1089.43 149.5h0M1066.32 174.57h0M1107.24 131.31h0M1066.2 175.32h0M1101.17 139.52h0M1059.78 179.63h0M1078.52 160.51h0M1087.47 151.45h0M1063.05 174.69h0M1081.21 158.75h0M1094.66 146.51h0M1064.59 176.38h0M1107.86 134.41h0M1086.42 153.06h0M1073.7 164.74h0M1084.81 156.3h0M1108.21 132.44h0M1104.66 135.62h0M1090.28 148.79h0M1065.54 173.88h0M1072.64 168.65h0M1070.27 167.9h0M1107.93 133.14h0M1110.24 129.63h0M1076.59 164.54h0M1060.7 178.27h0M1075.99 162.74h0M1098.09 141.73h0M1067.66 172.12h0M1061.75 176.86h0M1088.2 152.56h0M1100.55 139.82h0M1090.16 149.1h0M1085.72 153.9h0M1063.25 175.93h0M1089.21 149.85h0M1077.06 161.3h0M1066.85 173.9h0M1067.16 173.35h0M1103.48 135.7h0M1105.17 133.74h0M1063.08 176.55h0M1105.47 135.08h0M1086.94 153.51h0M1064.35 174.53h0M1086.92 152.77h0M1085.37 153.67h0M1079.8 160.32h0M1068.99 171.16h0M1105.06 135.1h0M1085.1 154.61h0M1108.94 130.48h0M1084.37 155.56h0M1095.2 142.9h0M1070.38 169.17h0M1072.27 166.62h0M1059.67 178.79h0M1073.77 166.65h0M1106.09 134.77h0M1070.63 169.68h0M1090.15 149.79h0M1061.36 176.42h0M1071.27 165.61h0M1060.23 177.41h0M1091.39 147.41h0M1076.47 161.11h0M1101.77 135.26h0M1058.58 181.58h0M1108.78 129.77h0M1062.75 177.41h0M1071.22 168.15h0M1066.17 171.66h0M1076.59 163.44h0M1069.86 170.28h0M1075.88 167.58h0M1100.75 138.21h0M1083.91 153.65h0M1107.04 132.55h0M1098.58 140.47h0M1091.76 147.21h0M1103.67 136h0M1096.74 142.31h0M1076.86 164.26h0M1094.33 147.77h0M1098.26 142.72h0M1108.61 132.56h0M1106.86 132.62h0M1101.32 136.06h0M1089.88 147.7h0M1100.36 140.04h0M1105.02 133.64h0M1086.71 155.63h0M1109.08 132.73h0M1100.52 141.04h0M1071.61 168.38h0M1068.69 170.15h0M1082.73 156.94h0M1107.04 133.85h0M1095.01 144.26h0M1100.33 138.11h0M1100.86 137.57h0M1102.59 134.46h0M1079.94 161.04h0M1103.16 137.26h0M1076.34 161.4h0M1100.82 137.5h0M1058.24 181.1h0M1063.97 175.59h0M1101.87 136.31h0M1082.7 157.61h0M1076.11 163.68h0M1103.61 136.99h0M1091.44 147.98h0M1072.63 167.39h0M1095.86 142.11h0M1101.59 138.57h0M1064.52 174.89h0M1102.44 136.81h0M1067.94 171.22h0M1077.57 164.85h0M1070.11 170.66h0M1106.27 132.27h0M1079.3 157.38h0M1085.36 154.19h0M1111.38 128.97h0M1066.76 174.8h0M1005.3 219.3h0M985.3 248.3h0M1003.3 248.7h0M994.7 252.7h0M1011.3 237.3h0M1014.4 234h0M1019.6 235h0M1019.6 238.3h0M1017.7 229.3h0M1020 225.3h0M1024.7 209.3h0M1032.7 214.4h0M1036.7 209h0M1041.3 205.3h0M1045.3 202.4h0M1047.6 205.3h0M1051.3 201h0M1048 198h0M1043.3 191h0M1053.3 182h0M1028.4 223.7h0M1058 173.3h0M1053.3 181.3h0M1043.3 191.3h0M1047.3 198.7h0M1068.7 166h0M1075.3 174.7h0M1083.3 170.4h0M1091.6 166.4h0M1105.45 158.35h0M1108.45 149.35h0M1111.45 151.45h0M1098.55 148.45h0M1096.3 134.7h0M1105 129h0M1109.3 138h0M1077.7 159.3h0M1081.3 152h0M1086 147.3h0M1091.3 143.3h0" stroke="#000" stroke-width="3.3" stroke-linecap="round" fill="none"/>
<path d="M741.2 498.9h0M741.46 498.64h0M741.99 497.93h0M742.28 497.87h0M742.6 497.6h0M743.11 497.07h0M743.48 496.45h0M744 496.26h0M744.43 495.79h0M744.79 495.38h0M745.32 494.68h0M745.74 494.47h0M746.07 493.88h0M746.59 493.49h0M746.97 492.95h0M747.19 493.12h0M747.68 492.37h0M748.03 491.95h0M748.5 491.73h0M748.96 491.04h0M749.17 490.9h0M749.71 490.44h0M750.22 489.96h0M750.62 489.58h0M750.84 489.13h0M751.26 488.94h0M751.56 488.55h0M751.95 488.07h0M752.3 487.95h0M752.78 487.3h0M753.22 486.7h0M753.66 486.61h0M754.11 485.98h0M754.51 485.65h0M755 485.13h0M755.24 484.77h0M755.63 484.52h0M756.08 483.97h0M756.34 483.74h0M756.65 483.48h0M756.98 483.37h0M757.25 482.8h0M757.56 482.61h0M757.87 482.21h0M758.22 481.94h0M758.56 481.59h0M758.89 481.28h0M759.17 480.92h0M759.68 480.24h0M760.11 480.05h0M760.58 479.5h0M761.04 479.11h0M761.41 478.55h0M761.87 478.17h0M762.17 477.79h0M762.55 477.72h0M762.85 477.19h0M763.32 476.72h0M763.54 476.62h0M763.86 476.12h0M764.39 475.7h0M764.62 475.56h0M765.01 475.1h0M765.35 474.6h0M765.84 474.33h0M766.26 473.89h0M766.8 473.2h0M767.27 472.71h0M767.61 472.64h0M767.93 472.11h0M768.27 471.87h0M768.53 471.48h0M769.04 470.94h0M769.47 470.61h0M769.99 470.17h0M770.21 469.96h0M770.55 469.35h0M770.99 469.11h0M771.39 468.6h0M771.69 468.49h0M772.18 467.96h0M772.43 467.48h0M772.87 467.23h0M773.38 466.6h0M773.9 466.19h0M774.33 465.59h0M774.83 465.37h0M775.28 464.94h0M775.69 464.4h0M776.1 464.03h0M776.59 463.5h0M776.87 463.3h0M777.1 462.87h0M777.58 462.27h0M777.91 462.18h0M778.4 461.66h0M778.72 461.52h0M778.97 461.14h0M779.26 460.94h0M779.66 460.48h0M780.14 460.14h0M780.38 459.77h0M780.66 459.38h0M780.97 459.06h0M781.37 458.76h0M781.64 458.63h0M782.14 458.01h0M782.35 457.63h0M782.82 457.39h0M783.17 456.95h0M783.39 456.6h0M783.8 456.19h0M784.14 455.83h0M784.42 455.67h0M784.92 455.36h0M785.46 454.64h0M785.77 454.37h0M786.14 453.96h0M786.39 453.57h0M786.83 453.31h0M787.19 452.87h0M787.53 452.62h0M787.83 452.32h0M788.21 452.04h0M788.57 451.58h0M788.84 451.41h0M789.13 450.83h0M789.67 450.37h0M790.13 450.18h0M790.58 449.44h0M791.04 449.13h0M791.24 448.89h0M791.74 448.33h0M792.03 447.93h0M792.36 447.81h0M792.91 447.31h0M793.21 446.95h0M793.54 446.58h0M794.05 446.08h0M794.29 445.71h0M794.53 445.67h0M794.89 445.35h0M795.44 444.81h0M795.8 444.2h0M796.29 443.84h0M796.69 443.45h0M797.07 443.05h0M797.27 442.9h0M797.79 442.25h0M798.33 441.53h0M798.69 441.4h0M799.17 440.83h0M799.67 440.44h0M799.94 440.17h0M800.35 439.74h0M800.84 439.27h0M801.31 438.76h0M801.82 438.28h0M802.21 437.97h0M802.63 437.51h0M803.14 436.82h0M803.41 436.7h0M803.7 436.49h0M803.93 436.11h0M804.34 435.81h0M804.7 435.45h0M805.1 434.89h0M805.46 434.52h0M805.68 434.41h0M806.05 434.02h0M806.39 433.64h0M806.67 433.29h0M807.1 432.96h0M807.35 432.65h0M807.87 432.21h0M808.15 431.93h0M808.69 431.42h0M809.17 431.03h0M809.66 430.33h0M809.87 430.11h0M810.1 430.17h0M810.32 429.76h0M810.53 429.58h0M810.81 429.52h0M811.25 428.98h0M811.77 428.27h0M812.06 428.05h0M812.53 427.59h0M812.76 427.49h0M813.03 427.05h0M813.51 426.65h0M813.75 426.46h0M814.22 426.05h0M814.42 425.53h0M814.92 425h0M815.3 424.74h0M815.71 424.24h0M815.94 424.06h0M816.16 423.86h0M816.5 423.58h0M816.7 423.4h0M817.19 422.89h0M817.68 422.37h0M818.1 422.01h0M818.38 421.68h0M818.92 421.2h0M819.31 420.76h0M819.76 420.37h0M820.26 419.86h0M820.59 419.47h0M820.9 419.21h0M821.31 418.73h0M821.85 418.25h0M822.08 418.01h0M822.32 417.73h0M822.7 417.27h0M823.06 416.93h0M823.49 416.69h0M824.01 416.07h0M824.53 415.4h0M825.02 415.08h0M825.46 414.62h0M825.95 413.96h0M826.22 413.97h0M826.75 413.21h0M827.04 413.12h0M827.34 412.71h0M827.57 412.6h0M827.93 412.32h0M828.46 411.63h0M828.92 411.34h0M829.39 410.44h0M829.68 410.42h0M829.89 410.31h0M830.17 410.1h0M830.49 409.47h0M830.95 409.18h0M831.43 408.46h0M831.82 408.43h0M832.13 408.09h0M832.55 407.47h0M833.09 407.11h0M833.34 406.62h0M833.73 406.34h0M834.26 405.66h0M834.7 405.52h0M835.24 404.92h0M835.54 404.6h0M836.06 404.12h0M836.51 403.6h0M837.05 403.09h0M837.49 402.7h0M837.94 402.16h0M838.22 401.71h0M838.51 401.74h0M838.79 401.34h0M839.08 401.16h0M839.48 400.58h0M839.91 400.06h0M840.22 399.79h0M840.44 399.67h0M840.77 399.34h0M841.02 399.17h0M841.56 398.62h0M842 398.08h0M842.26 398.01h0M842.5 397.57h0M842.94 397.26h0M843.29 396.8h0M843.82 396.24h0M844.14 395.97h0M844.63 395.45h0M844.91 395.3h0M845.34 394.61h0M845.64 394.52h0M846.16 393.95h0M846.41 393.62h0M846.84 393.14h0M847.11 393.02h0M847.65 392.48h0M847.99 392.04h0M848.26 391.73h0M848.49 391.81h0M848.73 391.39h0M849.27 390.73h0M849.52 390.7h0M849.99 390.11h0M850.38 389.82h0M850.62 389.49h0M850.91 389.37h0M851.25 388.86h0M851.52 388.51h0M851.79 388.23h0M852.22 387.95h0M852.58 387.54h0M853.01 387.06h0M853.51 386.6h0M853.86 386.27h0M854.1 385.83h0M854.33 385.81h0M854.58 385.46h0M854.86 385.25h0M855.21 384.92h0M855.54 384.59h0M855.9 384.33h0M856.13 383.92h0M856.4 383.69h0M856.91 383.04h0M857.45 382.69h0M857.98 382.08h0M858.36 381.75h0M858.86 381.31h0M859.14 381.05h0M859.66 380.49h0M860.02 380.07h0M860.38 379.67h0M860.69 379.46h0M861.02 379.27h0M861.26 378.99h0M861.52 378.56h0M861.73 378.28h0M861.93 378.04h0M862.3 377.79h0M862.58 377.35h0M862.96 376.99h0M863.21 376.77h0M863.69 376.62h0M864.19 375.84h0M864.52 375.66h0M864.8 375.25h0M865.2 374.94h0M865.48 374.59h0M865.69 374.33h0M865.96 374.17h0M866.42 373.38h0M866.76 373.17h0M867.2 373.25h0M867.48 372.65h0M867.85 371.9h0M868.22 371.85h0M868.77 371.26h0M869.26 370.77h0M869.53 370.73h0M869.81 370.29h0M870.35 369.68h0M870.67 369.57h0M871.1 369.15h0M871.36 368.76h0M871.85 368.47h0M872.14 367.96h0M872.5 367.37h0M872.75 367.26h0M873.03 367.37h0M873.28 367.1h0M873.53 366.36h0M874.04 366.03h0M874.26 365.85h0M874.66 365.53h0M875.02 364.79h0M875.45 364.83h0M875.96 364.27h0M876.49 363.58h0M876.83 363.63h0M877.06 363.16h0M877.27 362.79h0M877.81 362.43h0M878.31 361.6h0M878.81 361.39h0M879.29 360.69h0M879.53 360.39h0M879.82 360.15h0M880.3 359.6h0M880.81 359.4h0M881.04 359.03h0M881.56 358.44h0M882 358.05h0M882.29 357.83h0M882.67 357.61h0M883.11 357.27h0M883.53 356.71h0M883.89 356.05h0M884.09 355.71h0M884.46 355.51h0M884.89 354.94h0M885.15 355.27h0M885.43 354.58h0M885.78 354.44h0M886.13 353.94h0M886.66 353.55h0M887.12 352.9h0M887.45 352.48h0M887.69 352.12h0M887.97 352.17h0M888.18 352.07h0M888.43 351.5h0M888.66 351.56h0M889.06 351.29h0M889.38 350.62h0M889.83 350.15h0M890.2 349.95h0M890.41 349.64h0M890.73 349.26h0M891.27 348.87h0M891.7 348.01h0M892.12 347.83h0M892.39 347.19h0M892.86 347.19h0M893.34 346.91h0M893.75 346.6h0M894.16 345.59h0M894.43 345.94h0M894.88 345.24h0M895.18 344.94h0M895.44 344.67h0M895.88 344.38h0M896.17 343.93h0M896.62 343.52h0M896.86 343.23h0M897.39 342.83h0M897.71 342.37h0M898.09 341.91h0M898.46 341.85h0M898.75 341.44h0M899.01 341.13h0M899.24 340.61h0M899.53 340.32h0M900.01 340.07h0M900.38 339.51h0M900.65 339.72h0M900.86 339.11h0M901.12 338.9h0M901.57 338.32h0M901.85 338.38h0M902.08 337.61h0M902.49 337.75h0M902.97 337.48h0M903.44 336.67h0M903.88 336.33h0M904.27 335.93h0M904.68 335.54h0M904.92 335.06h0M905.21 334.76h0M905.55 334.16h0M905.77 334.25h0M906.22 333.92h0M906.64 333.66h0M907.09 332.61h0M907.36 332.39h0M907.67 332.33h0M907.92 332.01h0M908.2 331.96h0M908.65 330.98h0M909.19 330.97h0M909.5 330.39h0M909.95 330.48h0M910.18 330.04h0M910.4 329.56h0M910.92 329.16h0M911.43 328.5h0M911.67 328.47h0M912.05 327.8h0M912.5 327.57h0M912.89 327.23h0M913.11 326.87h0M913.45 326.45h0M913.88 326.24h0M914.16 325.82h0M914.61 325.77h0M915.08 324.82h0M915.6 324.71h0M916.13 323.88h0M916.49 323.53h0M916.91 323.18h0M917.45 322.72h0M917.97 322.34h0M918.39 321.94h0M918.69 321.83h0M919.16 321.13h0M919.52 320.82h0M919.75 320.49h0M920.29 320.03h0M920.76 319.42h0M921 319.18h0M921.26 318.91h0M921.65 318.54h0M921.91 318.04h0M922.37 317.49h0M922.62 317.6h0M922.9 317.34h0M923.19 316.88h0M923.65 316.94h0M924.02 315.68h0M924.55 315.35h0M924.92 315.04h0M925.37 314.72h0M925.63 314.31h0M926.17 314.36h0M926.49 313.95h0M926.78 313.31h0M927.32 313.12h0M927.57 312.69h0M927.83 312.06h0M928.3 311.7h0M928.64 311.62h0M929.13 311.23h0M929.33 310.46h0M929.8 309.78h0M930.33 309.36h0M930.65 309.78h0M930.94 308.69h0M931.27 308.63h0M931.6 308.7h0M931.84 308.36h0M932.18 308.6h0M932.61 307.89h0M932.89 306.86h0M933.41 307.01h0M933.87 305.32h0M934.33 305.86h0M934.76 305.11h0M935.1 305.1h0M935.48 304.47h0M935.8 304.43h0M936.3 303.53h0M936.79 303.44h0M937.32 302.65h0M937.78 302.11h0M938 301.67h0M938.5 301.25h0M938.82 301.17h0M939.3 300.94h0M939.57 299.87h0M939.89 300.21h0M940.21 300.05h0M940.41 299.75h0M940.64 299.23h0M940.86 299.22h0M941.22 298.65h0M941.57 298.81h0M941.87 297.43h0M942.29 298.11h0M942.81 297.05h0M943.27 296.57h0M943.67 297.08h0M943.9 295.64h0M944.29 295.48h0M944.66 294.83h0M945.09 295.37h0M945.36 294.52h0M945.9 294.46h0M946.34 294.31h0M946.55 294.1h0M946.96 292.63h0M947.31 293.02h0M947.54 291.91h0M948.02 291.98h0M948.34 291.86h0M948.82 291.86h0M949.1 291.83h0M949.45 289.9h0M949.78 290.11h0M950.06 289.24h0M950.36 289.46h0M950.63 289.99h0M951.02 288.54h0M951.27 288.83h0M951.8 288.76h0M952.28 287.82h0M952.55 287.95h0M953.01 286.84h0M953.51 286.04h0M953.79 286.95h0M954 285.31h0M954.51 285.58h0M955.05 284.19h0M955.44 284.6h0M955.69 283.95h0M956.04 283.56h0M956.45 283.63h0M956.8 283.6h0M957.18 282.76h0M957.38 282.75h0M957.7 282.27h0M957.98 281.5h0M958.27 281.59h0M958.68 281.39h0M959.2 281.05h0M959.65 280.94h0M960.11 279.84h0M960.41 279.1h0M960.9 279.31h0M961.43 278.61h0M961.79 278.44h0M962.27 277.91h0M962.7 277.67h0M963.13 277.31h0M963.68 276.08h0M963.96 276.72h0M964.23 276.08h0M964.65 275.8h0M964.95 275.29h0M965.18 275.15h0M965.45 274.46h0M965.72 274.82h0M966.08 273.01h0M966.45 274.05h0M966.98 272.85h0M967.39 272.76h0M967.64 272.54h0M968.09 272.15h0M968.63 271.16h0M968.97 271.34h0M969.3 270.65h0M969.55 270.17h0M970.05 270h0M970.55 269.53h0M971.01 268.74h0M971.53 269.04h0M971.87 267.91h0M972.26 267.98h0M972.69 267.31h0M972.95 266.14h0M973.27 267.27h0M973.68 265.82h0M974.12 265.44h0M974.51 266.45h0M974.85 265.34h0M975.36 264.93h0M975.84 264.63h0M976.21 263.95h0M976.59 262.92h0M976.91 263.88h0M977.29 263.36h0M977.66 262.17h0M977.98 261.67h0M978.45 262.03h0M978.74 261.06h0M979.07 261.34h0M979.59 260.17h0M979.91 260.11h0M980.39 260.06h0M980.6 260.07h0M980.87 259.97h0M981.12 259.27h0M981.4 259.02h0M981.86 258.37h0M982.31 258.7h0M982.7 256.82h0M983.22 257.73h0M983.58 257.07h0M983.84 256.24h0M984.18 255.03h0M984.41 256.21h0M984.82 254.74h0M985.36 254.89h0M985.61 254.53h0M985.81 254.12h0M986.05 253.43h0M986.31 254.05h0M986.75 253.92h0M987.28 252h0M987.64 253.44h0M987.97 252.12h0M988.51 251.92h0M989.06 250.96h0M989.33 250.5h0M989.58 250.07h0M989.8 250.91h0M990.19 249.86h0M990.54 249.45h0M991.02 248.63h0M991.52 248.34h0M991.93 247.92h0M992.47 248.04h0M992.97 247.65h0M993.22 246.58h0M993.48 246.09h0M993.68 246.91h0M994.16 246.07h0M994.36 245.18h0M994.84 244.65h0M995.24 245.22h0M995.69 243.39h0M996.23 244.53h0M996.75 243.03h0M997.09 242.74h0M997.38 243.42h0M997.86 241.76h0M998.34 242.5h0M998.66 241.4h0M999.12 240.93h0M999.38 241.39h0M999.88 239.83h0M1000.4 239.73h0M1000.63 240.22h0M1000.88 238.87h0M1001.35 237.79h0M1001.75 237.87h0M1002.1 238.19h0M1002.57 237.44h0M1002.81 237.25h0M1003.31 237.03h0M1003.67 236.37h0M1004.12 235.59h0M1004.55 236.03h0M1005 235.43h0M1005.28 234.59h0M1005.61 234.16h0M1006.13 235.63h0M1006.48 233h0M1006.88 233.53h0M1007.24 232.06h0M1007.74 231.34h0M1008.11 232.72h0M1008.35 231.75h0M1008.79 231.03h0M1009.01 231.73h0M1009.47 230.59h0M1009.71 230.06h0M1010 229.72h0M1010.48 230.19h0M1010.71 229.51h0M1011.21 229h0M1011.57 228.44h0M1011.94 228h0M1012.26 227.02h0M1012.79 227.43h0M1013.27 227.09h0M1013.51 226.83h0M1013.83 226.84h0M1014.09 226.55h0M1014.56 225.28h0M1014.85 225.57h0M1023.87 216.03h0M1024.21 216.04h0M1024.58 215.79h0M1024.95 215.09h0M1025.34 215.29h0M1025.81 214.01h0M1026.32 213.6h0M1026.65 214.98h0M1026.9 212.81h0M1027.3 213.34h0M1027.69 212.29h0M1028 212.47h0M1028.25 211.92h0M1028.55 211.06h0M1029.08 210.49h0M1029.52 209.69h0M1029.94 211.22h0M1030.33 210.32h0M1030.66 208.8h0M1031.07 208.57h0M1031.35 210.18h0M1031.89 208.28h0M1032.29 207.85h0M1032.56 207.25h0M1033.05 207.04h0M1033.49 206.09h0M1044.96 193.87h0M1045.2 194.89h0M1045.45 194.17h0M1045.78 193.53h0M1046.33 192.49h0M1046.88 192.59h0M1047.13 192.34h0M1047.59 191.97h0M1048.1 191.82h0M1048.39 191.94h0M1048.64 191.74h0M1049.05 191.17h0M1049.43 190.33h0M1049.83 189.68h0M1050.22 189.65h0M1050.42 190.29h0M1050.7 189.63h0M1051.17 188.99h0M1051.45 189.81h0M1051.69 187.8h0M1052 188.18h0M1052.47 187.79h0M1052.96 188.06h0M1053.32 185.35h0M1053.73 186.34h0M1054 186.34h0M1054.31 185.9h0M1054.54 185.16h0M1054.85 184.71h0M1055.23 185.31h0M1055.49 184.43h0M1055.79 183.68h0M1056.24 185.1h0M1056.59 183.61h0M1056.83 183.44h0M1057.33 182.55h0M1057.75 182.05h0M1057.97 181.55h0M1058.2 181.87h0M1058.66 181.28h0M1058.92 180.43h0M1059.36 179.88h0M1059.59 180.9h0M1060.11 180.45h0M1060.44 179.67h0M1060.71 180.23h0M1061.26 179.36h0M1061.58 178.42h0M1061.86 179.21h0M1020 221.3h0M1038.7 202h0M1042 196.7h0M895.4 351.6h0M900 347h0M918 335.6h0M916 320h0M914 323h0M1006.3 223.3h0M1031.6 225.35h0M972 277h0M1049.4 174h0M1067.6 173h0M1075.6 168h0M1079.4 178.4h0M1083.4 160.4h0M1096.4 139h0M1105 136h0M1113 123h0M1119 127h0M1116 125h0M1111 124h0M1109 131.51h0M1109.36 130.8h0M1109.69 129.29h0M1110.36 129.9h0M1110.7 129.36h0M1111.08 129.66h0M1111.64 128.02h0M1112.06 128.72h0M1112.73 128.28h0M1113.09 127.03h0M1113.58 127.8h0M1114.16 127.24h0M1114.69 126.24h0M1115.28 125.44h0M1115.9 125.25h0M1116.22 124.87h0M1116.76 123.9h0M1117.33 122.87h0M1117.78 122.86h0M1118.47 121.81h0M1118.95 122.07h0M1119.54 121.22h0M1120.18 120.34h0M1120.83 119.65h0M1121.42 119.77h0M1121.99 119.15h0M1122.29 119h0M1122.94 117.96h0M1123.64 116.57h0M1124.25 117.69h0M1124.9 114.51h0M1125.46 114.46h0M1126.13 114.25h0M1126.64 113.95h0M1127.14 113.31h0M1127.64 113.61h0M1128.17 112.66h0M1128.68 112.55h0M1129.18 110.8h0M1129.55 111.63h0M1130.06 110.52h0M1130.65 111.12h0M1131.26 109.04h0M1131.93 108.77h0M1132.43 107.97h0M1132.89 108.21h0M1133.48 107.56h0M1134.07 106.05h0M1134.45 105.76h0M1134.88 106.04h0M1135.32 105.46h0M1135.7 104.07h0M1136.1 104.84h0M1136.67 103.23h0M1137.22 103.36h0M1137.55 102.75h0M1137.99 104.26h0M1138.5 102.56h0M1139.07 102.74h0M1139.46 101.06h0M1139.9 101.68h0M1140.49 100.93h0M1140.99 99.44h0M1141.48 99.62h0M1142.06 99.61h0M1142.71 97.33h0M1143.19 97.1h0M1143.88 97.12h0M1144.25 96.77h0M1144.92 96.24h0M1145.56 94.62h0M1146.22 95.56h0M1146.69 94.43h0M1147.14 94.58h0M1147.49 93.79h0M1147.94 92.44h0M1148.48 92.26h0M1148.94 91.93h0M1149.39 91.94h0M1149.99 90.8h0M1150.43 89.96h0M1150.8 89.19h0M1151.11 89.26h0" stroke="#ff8c00" stroke-width="6.45" stroke-linecap="round" fill="none"/>
<path d="M720.75 518.5L1153.75 85.5" stroke="#777" stroke-width="1" stroke-dasharray="2.6 1.1" fill="none"/>
</g>
<rect x="721.5" y="86.5" width="433.0" height="433.0" fill="none" stroke="#cccccc" stroke-width="2.9"/>
<rect x="733" y="98" width="183.1" height="79.9" rx="4.5" ry="4.5" fill="#fff" fill-opacity="0.8" stroke="#ccc" stroke-opacity="0.9" stroke-width="2"/>
<circle cx="767.3" cy="120.5" r="1.75" fill="#000"/>
<circle cx="767.3" cy="156.3" r="3.2" fill="#ff8c00"/>
<text x="812.1" y="126.9" font-size="25" letter-spacing="-0.4">training</text>
<text x="812.1" y="163.1" font-size="25" letter-spacing="-0.58">test</text>
<text x="771.3" y="554" font-size="16.67" text-anchor="middle">−1.8</text>
<text x="850" y="554" font-size="16.67" text-anchor="middle">−1.6</text>
<text x="928.7" y="554" font-size="16.67" text-anchor="middle">−1.4</text>
<text x="1007.4" y="554" font-size="16.67" text-anchor="middle">−1.2</text>
<text x="1086.1" y="554" font-size="16.67" text-anchor="middle">−1.0</text>
<text x="697.8" y="159" font-size="16.67" text-anchor="end">−1.0</text>
<text x="697.8" y="237.7" font-size="16.67" text-anchor="end">−1.2</text>
<text x="697.8" y="317.3" font-size="16.67" text-anchor="end">−1.4</text>
<text x="697.8" y="396" font-size="16.67" text-anchor="end">−1.6</text>
<text x="697.8" y="473.8" font-size="16.67" text-anchor="end">−1.8</text>
<text x="937.1" y="585.6" font-size="22.22" text-anchor="middle">DFT energy (eV/atom)</text>
<text transform="translate(639.8 303) rotate(-90)" font-size="22.22" text-anchor="middle">MLP energy (eV/atom)</text>
</svg></body></html>
